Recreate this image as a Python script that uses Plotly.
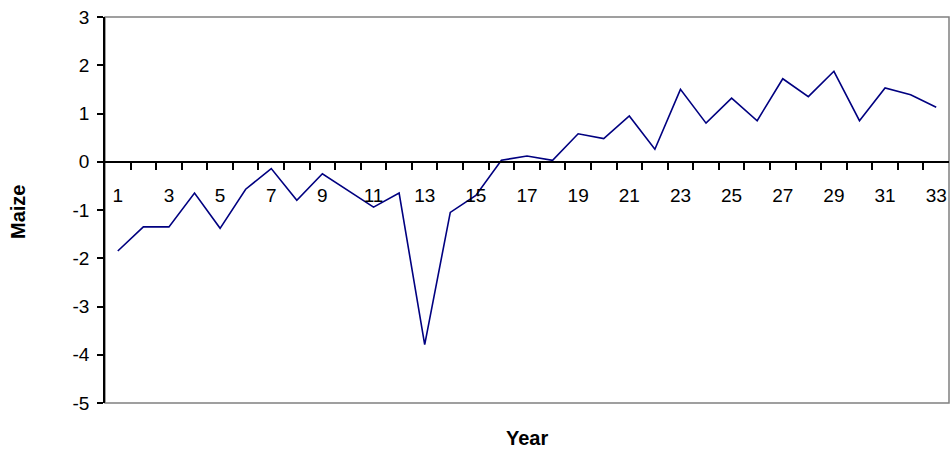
import plotly.graph_objects as go

years = list(range(1, 34))
maize = [-1.85, -1.35, -1.35, -0.65, -1.38, -0.57, -0.14, -0.80, -0.25, -0.60,
         -0.94, -0.65, -3.79, -1.05, -0.70, 0.03, 0.12, 0.03, 0.58, 0.48,
         0.95, 0.26, 1.50, 0.80, 1.32, 0.85, 1.72, 1.35, 1.875, 0.85,
         1.53, 1.39, 1.13]
x_labels = [str(y) for y in years if y % 2 == 1]
y_ticks = [-5, -4, -3, -2, -1, 0, 1, 2, 3]

FONT = "Liberation Sans, Arial, sans-serif"

fig = go.Figure()
fig.add_trace(go.Scatter(x=years, y=maize, mode="lines",
                         line=dict(color="#000080", width=1.6),
                         showlegend=False))

ymin, ymax = -5, 3
fig.update_layout(
    width=952, height=455,
    margin=dict(l=105, r=3, t=17, b=52),
    paper_bgcolor="white", plot_bgcolor="white",
    font=dict(family=FONT, size=19, color="black"),
    xaxis=dict(
        range=[0.5, 33.5], showgrid=False, zeroline=False,
        anchor="free", position=(0 - ymin) / (ymax - ymin),
        showline=True, linecolor="black", linewidth=1.5,
        tickmode="array", tickvals=[y for y in years if y % 2 == 1],
        ticktext=x_labels, ticks="", ticklabelstandoff=17,
        minor=dict(tickmode="array", tickvals=[v + 0.5 for v in range(1, 33)],
                   ticks="outside", ticklen=7, tickcolor="black", tickwidth=1.5),
        tickfont=dict(size=19, family=FONT),
    ),
    yaxis=dict(
        range=[ymin, ymax], showgrid=False, zeroline=False,
        showline=True, linecolor="black", linewidth=1.5,
        tickmode="array", tickvals=y_ticks, ticktext=[str(v) for v in y_ticks],
        ticks="outside", ticklen=6, tickcolor="black", tickwidth=1.5,
        ticklabelstandoff=4,
        tickfont=dict(size=19, family=FONT),
    ),
    shapes=[dict(type="rect", xref="paper", yref="paper", x0=0, x1=1, y0=0, y1=1,
                 line=dict(color="#808080", width=1.5), layer="below")],
    annotations=[
        dict(text="<b>Year</b>", xref="paper", yref="paper", x=0.5, y=-0.091,
             xanchor="center", yanchor="middle", showarrow=False,
             font=dict(size=20, family=FONT)),
        dict(text="<b>Maize</b>", xref="paper", yref="paper", x=-0.103, y=0.495,
             xanchor="center", yanchor="middle", showarrow=False, textangle=-90,
             font=dict(size=20, family=FONT)),
    ],
)

fig.write_html("out.html", config={"displayModeBar": False},
               post_script="document.body.style.margin='0';document.body.style.overflow='hidden';")
